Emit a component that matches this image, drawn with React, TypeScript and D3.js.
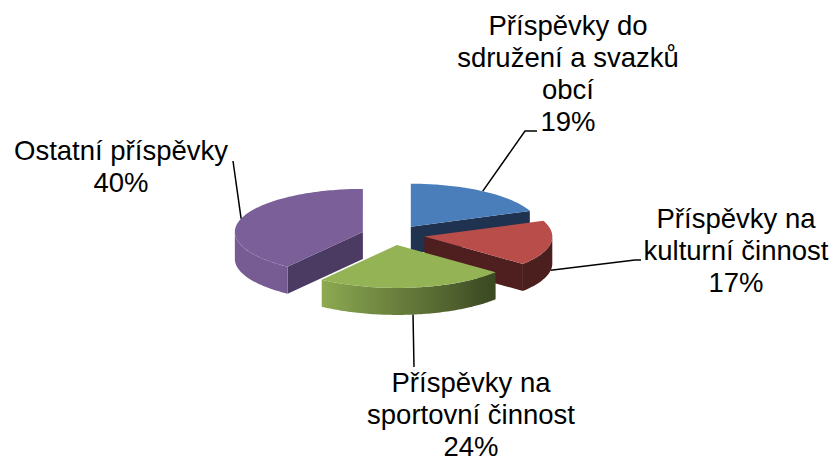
import * as d3 from 'd3';

// data
const categories = [
  'Příspěvky do sdružení a svazků obcí',
  'Příspěvky na kulturní činnost',
  'Příspěvky na sportovní činnost',
  'Ostatní příspěvky',
];
const labelLines = [
  ['Příspěvky do', 'sdružení a svazků', 'obcí'],
  ['Příspěvky na', 'kulturní činnost'],
  ['Příspěvky na', 'sportovní činnost'],
  ['Ostatní příspěvky'],
];
const values = [19, 17, 24, 40];

const topColors = ['#4a7ebb', '#b84d4a', '#94b355', '#7b5f99'];
const sideColors = ['#1f3350', '#4f1e1e', '#3b4a20', '#4b3a61'];

// label placement (text centre x, first baseline y, leader bend points)
const labelLayout = [
  { x: 568, y: 35, leader: [[525, 131], [537, 131]] },
  { x: 736, y: 228, leader: [[635, 260], [641, 260]] },
  { x: 471, y: 392, leader: [[414, 367]] },
  { x: 121, y: 160, leader: [[233, 161]] },
];

const width = 837;
const height = 462;
const cx = 393;
const cy = 235;
const rx = 128;
const ry = 43;
const depth = 27;
const explode = 31.7;
const explodeY = 10;
const lineHeight = 32;

type Pt = [number, number];

function pt(c: Pt, a: number, dy = 0): Pt {
  return [c[0] + rx * Math.sin(a), c[1] - ry * Math.cos(a) + dy];
}

function arcPts(c: Pt, a0: number, a1: number, dy = 0): Pt[] {
  const n = Math.max(2, Math.ceil((a1 - a0) / 0.02));
  return d3.range(n + 1).map((i) => pt(c, a0 + ((a1 - a0) * i) / n, dy));
}

// wall gets darker as it turns to the right
function shade(color: string, a: number) {
  const t = (a - Math.PI / 2) / Math.PI;
  const f = Math.max(0.4, Math.min(0.97, 0.35 + (t - 0.2) * 1.2));
  const c = d3.rgb(color);
  return d3.rgb(c.r * f, c.g * f, c.b * f).formatHex();
}

const line = d3.line();

function Pie3D() {
  const total = d3.sum(values);
  const arcs = d3
    .pie<number>()
    .sort(null)
    .startAngle(0)
    .endAngle(2 * Math.PI)(values);

  const slices = arcs.map((arc, i) => {
    const a0 = arc.startAngle;
    const a1 = arc.endAngle;
    const mid = (a0 + a1) / 2;
    const c: Pt = [cx + explode * Math.sin(mid), cy - explodeY * Math.cos(mid)];
    return { i, a0, a1, mid, c };
  });

  // back to front
  const order = slices.slice().sort((a, b) => a.c[1] - b.c[1]);

  const faces = order.map(({ i, a0, a1, c }) => {
    const parts = [];
    const radial = (a: number, key: string) => {
      const p = pt(c, a);
      return (
        <path
          key={key}
          d={line([c, p, [p[0], p[1] + depth], [c[0], c[1] + depth]]) + 'Z'}
          fill={sideColors[i]}
        />
      );
    };
    if (Math.cos(a0 - Math.PI / 2) < -0.01) parts.push(radial(a0, 's'));
    if (Math.cos(a1 + Math.PI / 2) < -0.01) parts.push(radial(a1, 'e'));

    const lo = Math.max(a0, Math.PI / 2);
    const hi = Math.min(a1, (3 * Math.PI) / 2);
    if (hi > lo) {
      const pts = arcPts(c, lo, hi).concat(arcPts(c, lo, hi, depth).reverse());
      const x1 = pt(c, hi)[0];
      const x2 = pt(c, lo)[0];
      const gid = 'wall' + i;
      parts.push(
        <linearGradient key="g" id={gid} gradientUnits="userSpaceOnUse" x1={x1} x2={x2} y1={0} y2={0}>
          {d3.range(9).map((k) => {
            const a = hi - ((hi - lo) * k) / 8;
            return (
              <stop
                key={k}
                offset={(pt(c, a)[0] - x1) / (x2 - x1)}
                stopColor={shade(topColors[i], a)}
              />
            );
          })}
        </linearGradient>
      );
      parts.push(<path key="w" d={line(pts) + 'Z'} fill={`url(#${gid})`} />);
    }

    parts.push(
      <path key="t" d={line([c, ...arcPts(c, a0, a1)]) + 'Z'} fill={topColors[i]} />
    );
    return <g key={categories[i]}>{parts}</g>;
  });

  const labels = slices.map(({ i, mid, c }) => {
    const front = Math.cos(mid) < 0;
    const start = pt(c, mid, front ? depth : 0);
    const lay = labelLayout[i];
    const lines = labelLines[i].concat([Math.round((values[i] / total) * 100) + '%']);
    return (
      <g key={'l' + i}>
        <path
          d={line([start, ...(lay.leader as Pt[])]) || ''}
          fill="none"
          stroke="#000"
          strokeWidth={1.5}
        />
        <text
          textAnchor="middle"
          fontFamily="'Liberation Sans', Arial, sans-serif"
          fontSize={27.5}
          fill="#000"
        >
          {lines.map((s, k) => (
            <tspan key={k} x={lay.x} y={lay.y + k * lineHeight}>
              {s}
            </tspan>
          ))}
        </text>
      </g>
    );
  });

  return (
    <svg
      width={width}
      height={height}
      style={{ position: 'absolute', left: 0, top: 0, background: '#fff' }}
    >
      {faces}
      {labels}
    </svg>
  );
}

export default function App() {
  return <Pie3D />;
}
